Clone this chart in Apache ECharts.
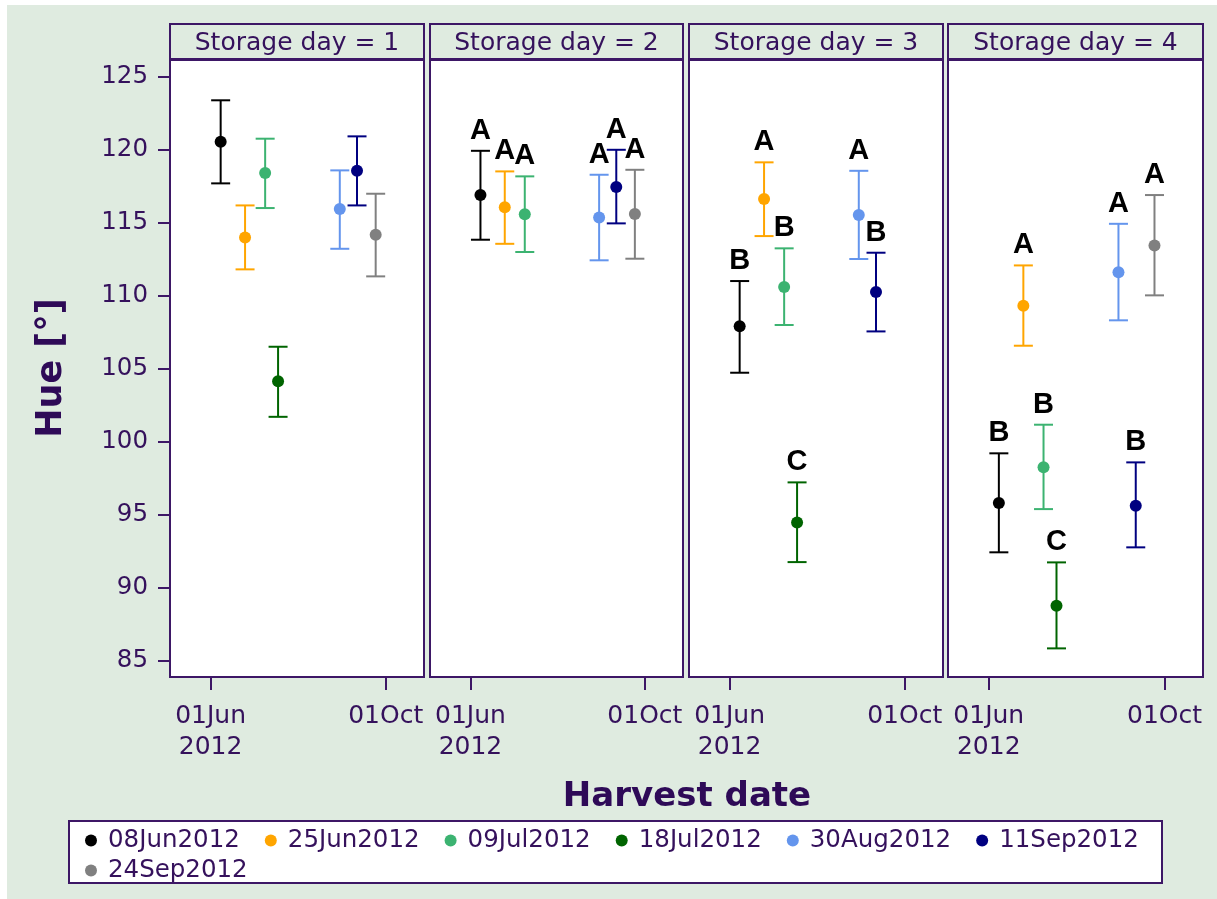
<!DOCTYPE html>
<html>
<head>
<meta charset="utf-8">
<script src="https://cdn.jsdelivr.net/npm/echarts@6/dist/echarts.min.js"></script>
<style>
html,body{margin:0;padding:0;background:#ffffff;}
#chart{width:1217px;height:899px;}
</style>
</head>
<body>
<div id="chart"></div>
<script>
// ---------------- data ----------------
const harvestDates = ['2012-06-08','2012-06-25','2012-07-09','2012-07-18','2012-08-30','2012-09-11','2012-09-24'];
const harvestLabels = ['08Jun2012','25Jun2012','09Jul2012','18Jul2012','30Aug2012','11Sep2012','24Sep2012'];
const panelTitles = ['Storage day = 1','Storage day = 2','Storage day = 3','Storage day = 4'];

const mean1  = [120.52, 113.97, 118.38, 104.11, 115.91, 118.53, 114.15];
const lower1 = [117.67, 111.78, 115.98, 101.68, 113.19, 116.16, 111.30];
const upper1 = [123.36, 116.16, 120.73, 106.48, 118.56, 120.89, 116.96];
const letters1 = [null, null, null, null, null, null, null];

const mean2  = [116.87, 116.03, 115.55, null, 115.34, 117.42, 115.57];
const lower2 = [113.81, 113.53, 112.97, null, 112.40, 114.93, 112.51];
const upper2 = [119.90, 118.49, 118.15, null, 118.26, 119.97, 118.60];
const letters2 = ['A', 'A', 'A', null, 'A', 'A', 'A'];

const mean3  = [107.88, 116.60, 110.57, 94.45, 115.50, 110.23, null];
const lower3 = [104.70, 114.06, 107.97, 91.73, 112.49, 107.53, null];
const upper3 = [110.98, 119.11, 113.22, 97.19, 118.53, 112.92, null];
const letters3 = ['B', 'A', 'B', 'C', 'A', 'B', null];

const mean4  = [95.77, 109.29, 98.22, 88.74, 111.58, 95.59, 113.42];
const lower4 = [92.40, 106.55, 95.36, 85.82, 108.29, 92.74, 110.00];
const upper4 = [99.18, 112.05, 101.14, 91.71, 114.90, 98.56, 116.87];
const letters4 = ['B', 'A', 'B', 'C', 'A', 'B', 'A'];

const yTicks = [85, 90, 95, 100, 105, 110, 115, 120, 125];
const xTickDates = ['2012-06-01', '2012-10-01'];
const xTickLabels = ['01Jun\n2012', '01Oct'];
const xRangeDates = ['2012-05-03T17', '2012-10-27T16'];

// ---------------- styles ----------------
const seriesColors = ['#000000', '#ffa500', '#3cb371', '#006400', '#6495ed', '#000080', '#808080'];
const PURPLE = '#3d1766';
const TEXT = '#35115c';
const BG = '#dfebe0';
const FONT = '"DejaVu Sans", Verdana, sans-serif';

function dayNum(s) {
  const parts = s.split('T');
  const p = parts[0].split('-').map(Number);
  const h = parts[1] ? Number(parts[1]) : 0;
  return (Date.UTC(p[0], p[1] - 1, p[2], h) - Date.UTC(2012, 0, 1)) / 86400000;
}
const xMin = dayNum(xRangeDates[0]);
const xMax = dayNum(xRangeDates[1]);
const yMin = 83.86, yMax = 126.12;

const means = [mean1, mean2, mean3, mean4];
const lowers = [lower1, lower2, lower3, lower4];
const uppers = [upper1, upper2, upper3, upper4];
const letters = [letters1, letters2, letters3, letters4];

const panels = [
  {left: 170, width: 254},
  {left: 430, width: 253},
  {left: 689, width: 254},
  {left: 948, width: 255}
];
const gridTop = 60, gridHeight = 617;

const xTickValues = xTickDates.map(d => dayNum(d));

const grids = [], xAxes = [], yAxes = [], series = [];
panels.forEach((p, pi) => {
  grids.push({left: p.left, top: gridTop, width: p.width, height: gridHeight,
    show: true, backgroundColor: '#ffffff', borderColor: PURPLE, borderWidth: 2, containLabel: false});
  xAxes.push({
    type: 'value', gridIndex: pi, min: xMin, max: xMax,
    axisLine: {show: false}, splitLine: {show: false},
    axisTick: {show: true, inside: false, length: 13, lineStyle: {color: PURPLE, width: 2}, customValues: xTickValues},
    axisLabel: {show: true, margin: 24, fontSize: 25, lineHeight: 31, color: TEXT, fontFamily: FONT,
      customValues: xTickValues,
      formatter: function (v) {
        let best = 0, bd = Infinity;
        xTickValues.forEach((t, k) => { const d = Math.abs(t - v); if (d < bd) { bd = d; best = k; } });
        return xTickLabels[best];
      }}
  });
  yAxes.push({
    type: 'value', gridIndex: pi, min: yMin, max: yMax, show: pi === 0,
    axisLine: {show: false}, splitLine: {show: false},
    axisTick: {show: pi === 0, inside: false, length: 12, lineStyle: {color: PURPLE, width: 2}, customValues: yTicks},
    axisLabel: {show: pi === 0, margin: 22, fontSize: 24.5, color: TEXT, fontFamily: FONT, customValues: yTicks}
  });

  const errData = [];
  for (let i = 0; i < harvestDates.length; i++) {
    if (means[pi][i] == null) continue;
    errData.push([dayNum(harvestDates[i]), lowers[pi][i], uppers[pi][i], i]);
  }
  series.push({
    type: 'custom', name: 'err' + pi, xAxisIndex: pi, yAxisIndex: pi,
    encode: {x: 0, y: [1, 2]}, z: 2,
    data: errData,
    renderItem: function (params, api) {
      const x = api.value(0), lo = api.value(1), hi = api.value(2), idx = api.value(3);
      const a = api.coord([x, lo]), b = api.coord([x, hi]);
      const col = seriesColors[idx];
      const hw = 9.5;
      const st = {stroke: col, lineWidth: 2};
      const children = [
        {type: 'line', shape: {x1: a[0], y1: a[1], x2: b[0], y2: b[1]}, style: st},
        {type: 'line', shape: {x1: a[0] - hw, y1: a[1], x2: a[0] + hw, y2: a[1]}, style: st},
        {type: 'line', shape: {x1: b[0] - hw, y1: b[1], x2: b[0] + hw, y2: b[1]}, style: st}
      ];
      const L = letters[pi][idx];
      if (L) {
        children.push({type: 'text', x: b[0], y: b[1] - 20,
          style: {text: L, fill: '#000000',
            align: 'center', verticalAlign: 'middle',
            fontSize: 29, fontWeight: 'bold', fontFamily: '"Liberation Sans", Arial, sans-serif'}});
      }
      return {type: 'group', children: children};
    }
  });

  for (let i = 0; i < harvestDates.length; i++) {
    const d = means[pi][i] == null ? [] : [[dayNum(harvestDates[i]), means[pi][i]]];
    series.push({
      type: 'scatter', name: harvestLabels[i], xAxisIndex: pi, yAxisIndex: pi,
      symbol: 'circle', symbolSize: 12, z: 3,
      itemStyle: {color: seriesColors[i], opacity: 1},
      data: d
    });
  }
});

const graphics = [
  {type: 'rect', z: -100, shape: {x: 7, y: 5, width: 1210, height: 894}, style: {fill: BG}, silent: true}
];
panels.forEach((p, pi) => {
  graphics.push({type: 'rect', z: 10, shape: {x: p.left, y: 24, width: p.width, height: 35},
    style: {fill: BG, stroke: PURPLE, lineWidth: 2}});
  graphics.push({type: 'rect', z: 11, shape: {x: p.left - 1, y: 58, width: p.width + 2, height: 2},
    style: {fill: PURPLE}});
  graphics.push({type: 'text', z: 12, x: p.left + p.width / 2, y: 43,
    style: {text: panelTitles[pi], fill: TEXT, align: 'center', verticalAlign: 'middle',
      fontSize: 25, fontFamily: FONT}});
});
graphics.push({type: 'text', z: 12, x: 52, y: 368, rotation: Math.PI / 2,
  style: {text: 'Hue [°]', fill: '#2e0a57', align: 'center', verticalAlign: 'middle',
    fontSize: 35, fontWeight: 'bold', fontFamily: FONT}});
graphics.push({type: 'text', z: 12, x: 687, y: 797,
  style: {text: 'Harvest date', fill: '#2e0a57', align: 'center', verticalAlign: 'middle',
    fontSize: 34, fontWeight: 'bold', fontFamily: FONT}});
graphics.push({type: 'rect', z: -50, shape: {x: 69, y: 821, width: 1093, height: 62},
  style: {fill: '#ffffff', stroke: PURPLE, lineWidth: 2}});
graphics.push({type: 'rect', z: -49, shape: {x: 69, y: 882, width: 1093, height: 2},
  style: {fill: PURPLE}});

const legendCommon = {
  orient: 'horizontal', icon: 'circle', itemWidth: 12, itemHeight: 12, itemGap: 25,
  selectedMode: false,
  textStyle: {fontSize: 24.5, color: TEXT, fontFamily: FONT, padding: [0, 0, 0, 6]}
};

const option = {
  animation: false,
  backgroundColor: 'transparent',
  grid: grids,
  xAxis: xAxes,
  yAxis: yAxes,
  legend: [
    Object.assign({}, legendCommon, {data: harvestLabels.slice(0, 6), left: 80, top: 823}),
    Object.assign({}, legendCommon, {data: harvestLabels.slice(6), left: 80, top: 853})
  ],
  graphic: graphics,
  series: series
};

const chart = echarts.init(document.getElementById('chart'), null, {renderer: 'canvas'});
chart.setOption(option);
</script>
</body>
</html>
